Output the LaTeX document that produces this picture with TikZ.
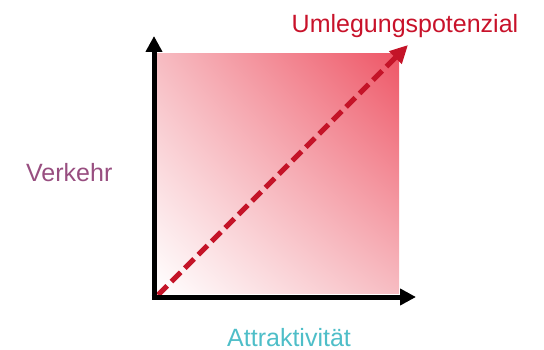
\documentclass[tikz,border=0pt]{standalone}
\usepackage{fontspec}
\setmainfont{Liberation Sans}
\usetikzlibrary{arrows.meta,shadings}
\definecolor{lblred}{RGB}{200,18,42}
\definecolor{lblpurple}{RGB}{152,78,128}
\definecolor{lblteal}{RGB}{78,190,200}
\definecolor{sqred}{RGB}{238,86,102}
\definecolor{sqmid}{RGB}{247,188,194}
\definecolor{dashred}{RGB}{196,20,40}
\tikzset{
  axis/.style={line width=5pt, black, -{Triangle[length=16pt,width=16pt]}},
  diag/.style={line width=5pt, dashred, dash pattern=on 13pt off 6pt, -{Triangle[length=18pt,width=17pt]}},
  lbl/.style={font=\fontsize{25}{28}\selectfont, inner sep=0pt}
}
\begin{document}
\begin{tikzpicture}[x=1pt,y=-1pt]
\useasboundingbox (0,0) rectangle (544,350);
\shade[lower left=white, upper right=sqred, upper left=sqmid, lower right=sqmid] (156,293) rectangle (399,54);
\coordinate (ytip) at (154,36);
\coordinate (xtip) at (416,297);
\coordinate (ybase) at (154,299.5);
\coordinate (xbase) at (151.5,297);
\coordinate (dstart) at (158,295);
\coordinate (dtip) at (408,45);
\draw[diag] (dstart) -- (dtip);
\draw[axis] (ybase) -- (ytip);
\draw[axis] (xbase) -- (xtip);
\node[lbl, text=lblred, anchor=base] (u) at (405,33) {Umlegungspotenzial};
\node[lbl, text=lblpurple, anchor=base west] (v) at (26,182) {Verkehr};
\node[lbl, text=lblteal, anchor=base west] (a) at (227,346) {Attraktivität};
\end{tikzpicture}
\end{document}
